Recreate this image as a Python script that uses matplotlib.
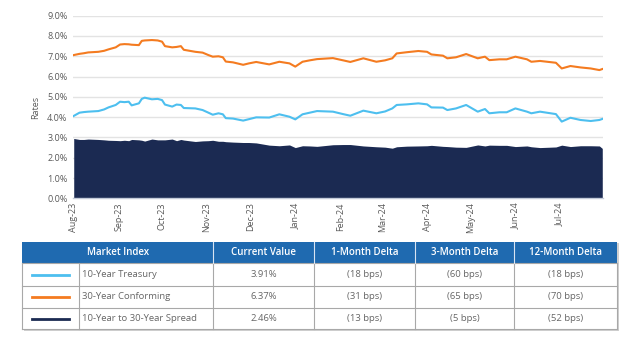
import pandas as pd
import matplotlib.pyplot as plt
import matplotlib.dates as mdates
from matplotlib.ticker import FuncFormatter

# Valores (días desde 2023-08-01)
dias = [0, 4, 7, 10, 17, 21, 24, 29, 32, 35, 38, 40, 45, 47, 49, 54, 58, 61, 63, 68,
        71, 74, 76, 84, 89, 93, 96, 100, 103, 105, 110, 117, 121, 126, 135, 142, 149, 153,
        158, 163, 168, 179, 186, 191, 200, 209, 215, 220, 223, 230, 238, 244, 247, 255,
        258, 264, 271, 279, 284, 287, 294, 299, 305, 313, 316, 322, 333, 337, 343, 350,
        357, 363, 365]
conforming_30 = [7.06, 7.12, 7.15, 7.19, 7.22, 7.27, 7.34, 7.44, 7.58, 7.60, 7.59, 7.57,
                 7.55, 7.76, 7.78, 7.80, 7.78, 7.72, 7.50, 7.44, 7.46, 7.50, 7.32, 7.22,
                 7.18, 7.06, 6.98, 7.00, 6.95, 6.74, 6.70, 6.58, 6.65, 6.72, 6.60, 6.73,
                 6.65, 6.49, 6.73, 6.80, 6.86, 6.91, 6.80, 6.72, 6.90, 6.73, 6.80, 6.90,
                 7.14, 7.20, 7.26, 7.22, 7.09, 7.03, 6.90, 6.95, 7.11, 6.90, 6.98, 6.81,
                 6.85, 6.85, 6.98, 6.85, 6.73, 6.77, 6.68, 6.40, 6.52, 6.45, 6.40, 6.32, 6.37]
treasury_10 = [4.06, 4.22, 4.25, 4.27, 4.30, 4.38, 4.48, 4.60, 4.76, 4.74, 4.76, 4.58,
               4.68, 4.90, 4.96, 4.88, 4.90, 4.84, 4.62, 4.52, 4.62, 4.60, 4.45, 4.43,
               4.35, 4.22, 4.12, 4.19, 4.14, 3.95, 3.93, 3.83, 3.90, 3.99, 3.98, 4.14,
               4.02, 3.89, 4.14, 4.22, 4.30, 4.27, 4.15, 4.07, 4.32, 4.19, 4.28, 4.43,
               4.60, 4.63, 4.68, 4.63, 4.48, 4.47, 4.35, 4.43, 4.60, 4.27, 4.40, 4.19,
               4.24, 4.24, 4.43, 4.27, 4.19, 4.27, 4.15, 3.78, 3.97, 3.86, 3.81, 3.86, 3.91]
spread = [2.95, 2.90, 2.90, 2.92, 2.90, 2.88, 2.86, 2.85, 2.84, 2.86, 2.84, 2.90, 2.88,
          2.86, 2.82, 2.92, 2.88, 2.88, 2.88, 2.92, 2.84, 2.90, 2.87, 2.80, 2.83, 2.84,
          2.86, 2.81, 2.81, 2.79, 2.77, 2.75, 2.75, 2.73, 2.62, 2.59, 2.63, 2.50, 2.59,
          2.58, 2.56, 2.64, 2.65, 2.65, 2.58, 2.54, 2.52, 2.47, 2.54, 2.57, 2.58, 2.59,
          2.61, 2.56, 2.55, 2.52, 2.51, 2.63, 2.58, 2.62, 2.61, 2.61, 2.55, 2.58, 2.54,
          2.50, 2.53, 2.62, 2.55, 2.59, 2.59, 2.58, 2.46]

fechas = pd.Timestamp("2023-08-01") + pd.to_timedelta(dias, unit="D")

# Tabla
series_nombres = ["10-Year Treasury", "30-Year Conforming", "10-Year to 30-Year Spread"]
valor_actual = ["3.91%", "6.37%", "2.46%"]
delta_1m = ["(18 bps)", "(31 bps)", "(13 bps)"]
delta_3m = ["(60 bps)", "(65 bps)", "(5 bps)"]
delta_12m = ["(18 bps)", "(70 bps)", "(52 bps)"]
encabezados = ["Market Index", "Current Value", "1-Month Delta", "3-Month Delta", "12-Month Delta"]

AZUL = "#4dbfef"
NARANJA = "#f47b20"
MARINO = "#1b2a52"
CABECERA = "#1f6ab0"
GRIS_TXT = "#666666"

plt.rcParams["font.family"] = ["Open Sans", "DejaVu Sans"]

fig = plt.figure(figsize=(6.4, 3.42), dpi=100)
ax = fig.add_axes([73 / 640, 1 - 198.3 / 342, 530 / 640, (198.3 - 15.7) / 342])

ax.fill_between(fechas, 0, spread, color=MARINO, linewidth=0)
ax.plot(fechas, treasury_10, color=AZUL, linewidth=1.5)
ax.plot(fechas, conforming_30, color=NARANJA, linewidth=1.5)

ax.set_ylim(0, 9)
ax.set_yticks(range(0, 10))
ax.yaxis.set_major_formatter(FuncFormatter(lambda v, p: f"{v:.1f}%"))
ax.set_xlim(pd.Timestamp("2023-07-31 12:00"), pd.Timestamp("2024-07-31 12:00"))
ax.xaxis.set_major_locator(mdates.MonthLocator())
ax.xaxis.set_major_formatter(mdates.DateFormatter("%b-%y"))
ax.tick_params(axis="x", rotation=90, labelsize=6.5, colors="#595959", length=0, pad=3)
ax.tick_params(axis="y", labelsize=6.5, colors="#595959", length=0, pad=4)
ax.grid(axis="y", color="#e3e3e3", linewidth=1)
ax.set_axisbelow(True)
for s in ["top", "right", "left"]:
    ax.spines[s].set_visible(False)
ax.spines["bottom"].set_color("#c3cad8")
ax.spines["bottom"].set_linewidth(1)
ax.set_ylabel("Rates", fontsize=6.5, color="#595959", labelpad=5)

# Tabla dibujada en coordenadas de píxel
tb = fig.add_axes([0, 0, 1, 1])
tb.set_xlim(0, 640)
tb.set_ylim(342, 0)
tb.axis("off")

cols = [22, 79.3, 213.3, 314.3, 415.3, 514.3, 617.3]
filas = [241.7, 263.3, 285.7, 307.7, 329.3]

# sombra
tb.add_patch(plt.Rectangle((cols[0] + 1.5, filas[0] + 1.5), cols[-1] - cols[0], filas[-1] - filas[0],
                           facecolor="#d0d0d0", edgecolor="none"))
tb.add_patch(plt.Rectangle((cols[0], filas[1]), cols[-1] - cols[0], filas[-1] - filas[1],
                           facecolor="white", edgecolor="none"))
tb.add_patch(plt.Rectangle((cols[0], filas[0]), cols[-1] - cols[0], filas[1] - filas[0],
                           facecolor=CABECERA, edgecolor="none"))

for y in filas[1:]:
    tb.plot([cols[0], cols[-1]], [y, y], color="#a8a8a8", linewidth=0.8)
for x in cols:
    tb.plot([x, x], [filas[1], filas[-1]], color="#a8a8a8", linewidth=0.8)
for x in cols[2:-1]:
    tb.plot([x, x], [filas[0], filas[1]], color="#d8e4f2", linewidth=0.8)

ycab = (filas[0] + filas[1]) / 2
centros_cab = [(cols[0] + cols[2]) / 2] + [(cols[i] + cols[i + 1]) / 2 for i in range(2, 6)]
for cx, txt in zip(centros_cab, encabezados):
    tb.text(cx, ycab, txt, ha="center", va="center", color="white", fontsize=7,
            fontweight="semibold")

colores = [AZUL, NARANJA, MARINO]
for i in range(3):
    yc = (filas[i + 1] + filas[i + 2]) / 2
    tb.plot([32, 69], [yc, yc], color=colores[i], linewidth=2)
    tb.text(cols[1] + 3, yc, series_nombres[i], ha="left", va="center", color=GRIS_TXT, fontsize=6.8)
    for j, vals in enumerate([valor_actual, delta_1m, delta_3m, delta_12m]):
        cx = (cols[j + 2] + cols[j + 3]) / 2
        tb.text(cx, yc, vals[i], ha="center", va="center", color=GRIS_TXT, fontsize=6.8)

plt.savefig("out.png", dpi=100)
